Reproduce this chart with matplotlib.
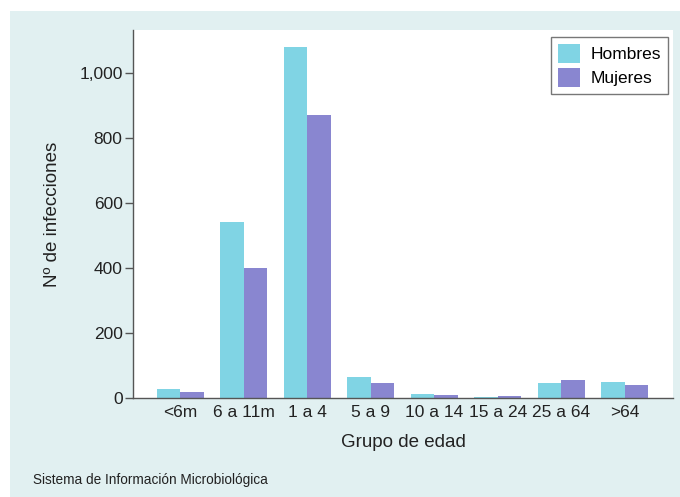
import matplotlib
matplotlib.use("Agg")
import matplotlib.pyplot as plt
import numpy as np
from matplotlib.patches import Rectangle
from matplotlib.ticker import FuncFormatter

plt.rcParams['font.family'] = ['Liberation Sans', 'DejaVu Sans']

categories = ["<6m", "6 a 11m", "1 a 4", "5 a 9", "10 a 14", "15 a 24", "25 a 64", ">64"]
hombres = [28, 541, 1080, 66, 11, 2, 47, 49]
mujeres = [18, 400, 871, 47, 8, 5, 56, 40]
yticks = [0, 200, 400, 600, 800, 1000]

fig = plt.figure(figsize=(6.8, 4.97), dpi=100)
fig.patch.set_facecolor("white")
fig.add_artist(Rectangle((10/680, 0), 1 - 10/680, 1 - 11/497, transform=fig.transFigure,
                         facecolor="#e1f0f1", edgecolor="none", zorder=-10))

ax = fig.add_axes([133/680, 1 - 398/497, (673 - 133)/680, (398 - 30)/497])
ax.set_facecolor("white")

x = np.arange(len(categories))
w = 0.37
ax.bar(x - w/2, hombres, w, color="#80d4e4", label="Hombres", zorder=2)
ax.bar(x + w/2, mujeres, w, color="#8986d0", label="Mujeres", zorder=2)

ax.set_xlim(-0.74, len(categories) - 1 + 0.76)
ax.set_ylim(0, 1132)
ax.set_xticks(x)
ax.set_xticklabels(categories, fontsize=12.5, color="#222222")
ax.tick_params(axis="x", length=0, pad=5)
ax.set_yticks(yticks)
ax.yaxis.set_major_formatter(FuncFormatter(lambda v, p: f"{int(v):,}"))
ax.tick_params(axis="y", length=6, width=1, color="#555555", labelsize=12.5, labelcolor="#222222", pad=1.5)

for s in ["top", "right"]:
    ax.spines[s].set_visible(False)
for s in ["left", "bottom"]:
    ax.spines[s].set_color("#555555")
    ax.spines[s].set_linewidth(1)

ax.set_xlabel("Grupo de edad", fontsize=13.5, color="#222222", labelpad=10)
ax.set_ylabel("Nº de infecciones", fontsize=13.5, color="#222222", labelpad=13)

leg = ax.legend(loc="upper right", fontsize=12.5, frameon=True, fancybox=False,
                edgecolor="#555555", borderpad=0.4, handlelength=1.3, handleheight=1.3,
                handletextpad=0.6, labelspacing=0.3, borderaxespad=0,
                bbox_to_anchor=((668 - 133)/540, (398 - 37)/368))
leg.get_frame().set_linewidth(1)

fig.text(33/680, 1 - 480/497, "Sistema de Información Microbiológica", fontsize=9.8,
         color="#222222", va="center", ha="left")

fig.savefig("out.png", dpi=100)
